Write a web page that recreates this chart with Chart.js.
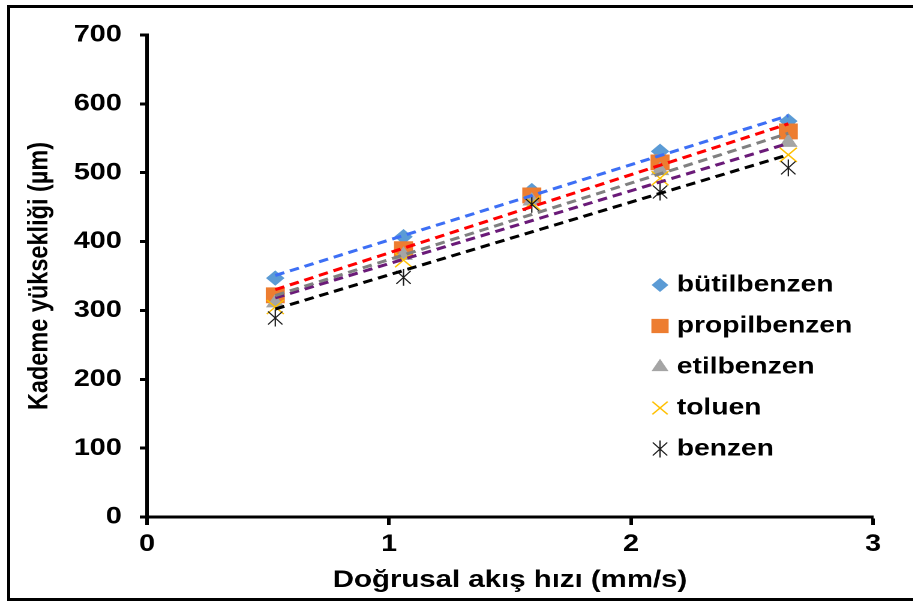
<!DOCTYPE html>
<html>
<head>
<meta charset="utf-8">
<script src="https://cdn.jsdelivr.net/npm/chart.js@4.4.1/dist/chart.umd.min.js"></script>
<style>
  html, body { margin: 0; padding: 0; background: #fff; overflow: hidden; }
  /* the chart is laid out narrow and widened by 1.2 */
  #wrap { position: absolute; left: 0; top: 0; width: 761px; height: 605px; transform: scaleX(1.2); transform-origin: 0 0; }
  #frame { position: absolute; left: 7px; top: 5px; width: 920px; height: 590px; border: 3px solid #000; pointer-events: none; }
</style>
</head>
<body>
<div id="wrap"><canvas id="kademe"></canvas></div>
<div id="frame"></div>
<script>
// dogrusal akis hizi (mm/s)
const hiz = [0.53, 1.06, 1.59, 2.12, 2.65];

// kademe yuksekligi (um)
const butilbenzen  = [347, 407, 474, 531, 575];
const propilbenzen = [322, 389, 467, 515, 560];
const etilbenzen   = [311, 380, 459, 503, 544];
const toluen       = [305, 373, 456, 492, 526];
const benzen       = [289, 348, 454, 472, 507];

const seriler = ['bütilbenzen', 'propilbenzen', 'etilbenzen', 'toluen', 'benzen'];
const xEksen = { min: 0, max: 3, step: 1 };
const yEksen = { min: 0, max: 700, step: 100 };

const boldFont = size => ({ family: '"Liberation Sans", Arial, sans-serif', size: size, weight: 'bold' });

// en kucuk kareler dogrusu (Excel trendline gibi)
function trend(xs, ys) {
  const n = xs.length;
  const mx = xs.reduce((a, b) => a + b, 0) / n;
  const my = ys.reduce((a, b) => a + b, 0) / n;
  let sxy = 0, sxx = 0;
  for (let i = 0; i < n; i++) {
    sxy += (xs[i] - mx) * (ys[i] - my);
    sxx += (xs[i] - mx) * (xs[i] - mx);
  }
  const b = sxy / sxx, a = my - b * mx;
  return [{ x: xs[0], y: a + b * xs[0] }, { x: xs[n - 1], y: a + b * xs[n - 1] }];
}

const pts = ys => ys.map((y, i) => ({ x: hiz[i], y: y }));

const yildiz = new Image();
yildiz.src = 'data:image/svg+xml;utf8,' + encodeURIComponent(
  "<svg xmlns='http://www.w3.org/2000/svg' width='13' height='17'>" +
  "<path d='M6.5 0V17M0.5 2L12.5 15M12.5 2L0.5 15' stroke='#1a1a1a' stroke-width='1.1' fill='none'/></svg>");

function cizgi(ys, renk) {
  return {
    type: 'line', data: trend(hiz, ys), borderColor: renk, borderWidth: 3,
    borderDash: [8, 5], pointRadius: 0, fill: false, order: 0
  };
}

const noktalar = [
  { label: seriler[0], data: pts(butilbenzen), pointStyle: 'rectRot', pointRadius: 7,
    backgroundColor: '#5b9bd5', borderColor: '#5b9bd5', borderWidth: 1, order: 5 },
  { label: seriler[1], data: pts(propilbenzen), pointStyle: 'rect', pointRadius: 10.5,
    backgroundColor: '#ed7d31', borderColor: '#ed7d31', borderWidth: 1, order: 4 },
  { label: seriler[2], data: pts(etilbenzen), pointStyle: 'triangle', pointRadius: 8,
    backgroundColor: '#a5a5a5', borderColor: '#a5a5a5', borderWidth: 1, order: 3 },
  { label: seriler[3], data: pts(toluen), pointStyle: 'crossRot', pointRadius: 10,
    backgroundColor: '#ffc000', borderColor: '#ffc000', borderWidth: 1.3, order: 2 },
  { label: seriler[4], data: pts(benzen), pointStyle: yildiz, pointRadius: 8,
    backgroundColor: '#1a1a1a', borderColor: '#1a1a1a', borderWidth: 1, order: 1 }
];

const trendler = [
  cizgi(butilbenzen, '#3d6ff5'),
  cizgi(propilbenzen, '#ff0000'),
  cizgi(etilbenzen, '#808080'),
  cizgi(toluen, '#6a1a78'),
  cizgi(benzen, '#000000')
];

// grafik icindeki seri aciklamasi
const aciklama = {
  id: 'aciklama',
  afterDraw(chart) {
    const ctx = chart.ctx;
    ctx.save();
    ctx.font = 'bold 23.5px "Liberation Sans", Arial, sans-serif';
    ctx.textBaseline = 'middle';
    noktalar.forEach((ds, i) => {
      const y = 285 + i * 41;
      ctx.fillStyle = ds.backgroundColor;
      ctx.strokeStyle = ds.borderColor;
      ctx.lineWidth = ds.borderWidth;
      Chart.helpers.drawPoint(ctx, { pointStyle: ds.pointStyle, radius: ds.pointRadius * 0.9, rotation: 0, borderWidth: ds.borderWidth }, 550, y);
      ctx.fillStyle = '#000';
      ctx.fillText(ds.label, 564, y);
    });
    ctx.restore();
  }
};

function ciz() {
  new Chart(document.getElementById('kademe'), {
    type: 'scatter',
    data: { datasets: trendler.concat(noktalar) },
    options: {
      responsive: true,
      maintainAspectRatio: false,
      devicePixelRatio: 2,
      animation: false,
      layout: { padding: { top: 35, right: 33.5, left: 0, bottom: 0 } },
      plugins: { legend: { display: false }, tooltip: { enabled: false } },
      scales: {
        x: {
          type: 'linear', min: xEksen.min, max: xEksen.max,
          afterFit(s) { s.height = 88; },
          ticks: { stepSize: xEksen.step, color: '#000', font: boldFont(24), padding: 5 },
          grid: { drawOnChartArea: false, drawTicks: true, tickLength: 8, tickWidth: 3, tickColor: '#000' },
          border: { color: '#000', width: 3 },
          title: { display: true, text: 'Doğrusal akış hızı (mm/s)', color: '#000', font: boldFont(24.5), padding: { top: 0, bottom: 10 } }
        },
        y: {
          min: yEksen.min, max: yEksen.max,
          afterFit(s) { s.width = 122.5; },
          ticks: { stepSize: yEksen.step, color: '#000', font: boldFont(24), padding: 15 },
          grid: { drawOnChartArea: false, drawTicks: true, tickLength: 6, tickWidth: 3, tickColor: '#000' },
          border: { color: '#000', width: 3 },
          title: { display: true, text: 'Kademe yüksekliği (µm)', color: '#000', font: boldFont(23.5), padding: { top: 19, bottom: 0 } }
        }
      }
    },
    plugins: [aciklama]
  });
}

if (yildiz.complete) ciz(); else yildiz.onload = ciz;
</script>
</body>
</html>
